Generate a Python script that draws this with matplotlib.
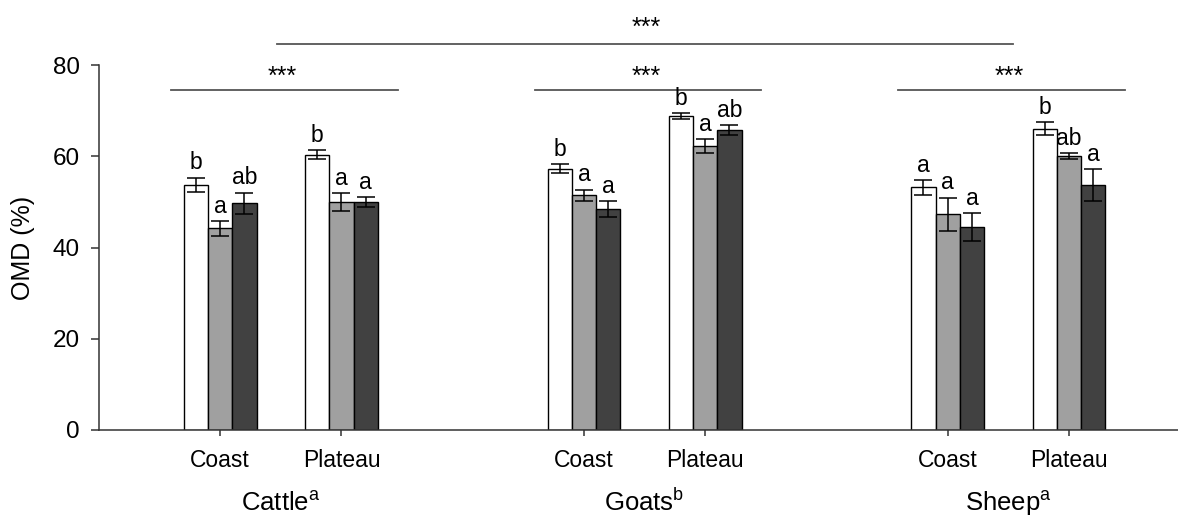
import numpy as np
import matplotlib
matplotlib.use('Agg')
import matplotlib.pyplot as plt

plt.rcParams['font.family'] = ['Liberation Sans', 'DejaVu Sans']
plt.rcParams['mathtext.fontset'] = 'custom'
plt.rcParams['mathtext.rm'] = 'Liberation Sans'

# Species and sites
species = ['Cattle', 'Goats', 'Sheep']
species_sig = ['a', 'b', 'a']
sites = ['Coast', 'Plateau']
group_pos = [0, 1, 3, 4, 6, 7]

# OMD (%) per treatment, order: Cattle C/P, Goats C/P, Sheep C/P
omd_t1 = [53.7, 60.3, 57.3, 68.8, 53.2, 66.0]
err_t1 = [1.6, 1.0, 1.0, 0.6, 1.6, 1.45]
omd_t2 = [44.2, 49.9, 51.4, 62.3, 47.3, 60.0]
err_t2 = [1.6, 2.0, 1.3, 1.5, 3.65, 0.65]
omd_t3 = [49.75, 50.0, 48.4, 65.75, 44.5, 53.6]
err_t3 = [2.3, 1.1, 1.7, 1.0, 3.0, 3.5]

# letters from post-hoc tests
let_t1 = ['b', 'b', 'b', 'b', 'a', 'b']
let_t2 = ['a', 'a', 'a', 'a', 'a', 'ab']
let_t3 = ['ab', 'a', 'a', 'ab', 'a', 'a']

# significance bars (y value in %)
sig_site_y = 74.6
sig_species_y = 84.5
sig_text = '***'

fig = plt.figure(figsize=(11.78, 5.18), dpi=100)
ax = fig.add_axes([99 / 1178, 88 / 518, 1079 / 1178, 365 / 518])

x = np.array(group_pos, dtype=float)
w = 0.2
colors = ['white', '#a0a0a0', '#414141']
series = [(omd_t1, err_t1, let_t1), (omd_t2, err_t2, let_t2),
          (omd_t3, err_t3, let_t3)]

for k, (vals, errs, lets) in enumerate(series):
    xs = x + (k - 1) * w
    ax.bar(xs, vals, width=w, color=colors[k], edgecolor='black',
           linewidth=1.0, zorder=2)
    ax.errorbar(xs, vals, yerr=errs, fmt='none', ecolor='black',
                elinewidth=1.1, capsize=6.5, capthick=1.1, zorder=3)
    for xi, v, e, t in zip(xs, vals, errs, lets):
        ax.annotate(t, (xi, v + e), xytext=(0, 6), textcoords='offset points',
                    ha='center', va='baseline', fontsize=16.5)

# site comparison within species
for i in range(len(species)):
    c = (x[2 * i] + x[2 * i + 1]) / 2
    ax.plot([c - 0.907, c + 0.964], [sig_site_y, sig_site_y], color='#555555',
            lw=1.3, clip_on=False)
    ax.text(c + 0.01, 75.8, sig_text, ha='center', va='baseline',
            fontsize=18)
    ax.annotate(species[i] + r'$^{\rm ' + species_sig[i] + '}$', (c, -0.222),
                xycoords=('data', 'axes fraction'), ha='center',
                va='baseline', fontsize=18.5, annotation_clip=False)

# species comparison
ax.plot([0.47, 6.54], [sig_species_y, sig_species_y], color='#555555',
        lw=1.3, clip_on=False)
ax.text(3.51, 86.6, sig_text, ha='center', va='baseline', fontsize=18,
        clip_on=False)

ax.set_xlim(-1.0, 7.9)
ax.set_ylim(0, 80)
ax.set_yticks([0, 20, 40, 60, 80])
ax.set_xticks(x)
ax.set_xticklabels(sites * len(species))
ax.tick_params(axis='y', direction='out', length=6, width=1.1, pad=8,
               labelsize=17.5, color='#333333')
ax.tick_params(axis='x', direction='out', length=4, width=1.1, pad=10,
               labelsize=16.5, color='#333333')
for s in ['top', 'right']:
    ax.spines[s].set_visible(False)
for s in ['left', 'bottom']:
    ax.spines[s].set_color('#333333')
    ax.spines[s].set_linewidth(1.1)

ax.set_ylabel('OMD (%)', fontsize=18)
ax.yaxis.set_label_coords(-0.059, 0.5)

fig.savefig('out.png', dpi=100)
